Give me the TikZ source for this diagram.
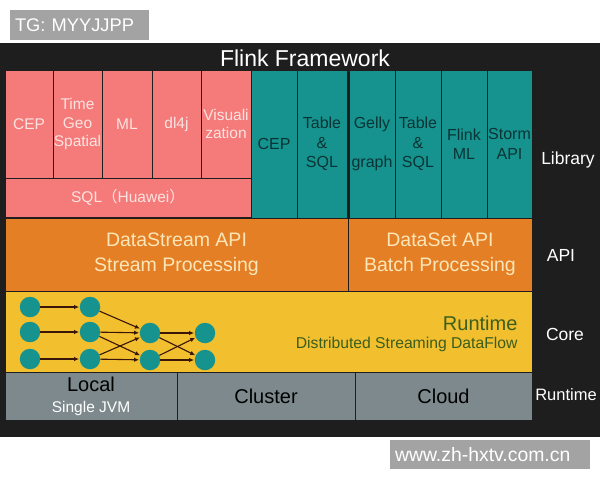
\documentclass[tikz,border=0pt]{standalone}
\usepackage{fontspec}
\setmainfont{Liberation Sans}
\newfontfamily\cjk{Noto Sans CJK SC}
\usetikzlibrary{arrows.meta}

\definecolor{bgdark}{HTML}{1E1E1E}
\definecolor{libpink}{HTML}{F47B7A}
\definecolor{pinktext}{HTML}{FCE3E0}
\definecolor{libteal}{HTML}{16938F}
\definecolor{tealtext}{HTML}{0A3434}
\definecolor{apiorange}{HTML}{E47F26}
\definecolor{apitext}{HTML}{FBE6B8}
\definecolor{coreyellow}{HTML}{F2BF2E}
\definecolor{coregreen}{HTML}{3B5E1E}
\definecolor{rungray}{HTML}{7D898C}
\definecolor{taggray}{HTML}{A3A3A3}
\definecolor{arrowbrown}{HTML}{3A1608}

\tikzset{
	cell/.style={draw=bgdark, line width=0.8pt, inner sep=0pt, align=center},
	pinkcell/.style={cell, fill=libpink, text=pinktext, font=\fontsize{15.5}{18.5}\selectfont, minimum height=108pt},
	tealcell/.style={cell, fill=libteal, text=tealtext, font=\fontsize{16}{19.5}\selectfont, minimum height=148pt},
	apicell/.style={cell, fill=apiorange, text=apitext, font=\fontsize{19.5}{25}\selectfont, minimum height=73pt},
	runcell/.style={cell, fill=rungray, font=\fontsize{20}{22}\selectfont, minimum height=48pt},
	side/.style={text=white, font=\fontsize{17.5}{20}\selectfont},
	dot/.style={circle, fill=libteal, minimum size=20.5pt, inner sep=0pt},
	flow/.style={-{Latex[length=5pt,width=4.5pt]}, arrowbrown, line width=1.1pt, shorten >=0.5pt},
	tagbox/.style={fill=taggray, text=white, inner sep=0pt, align=left}
}

\begin{document}
\begin{tikzpicture}[x=1pt, y=-1pt]
	\useasboundingbox (0,0) rectangle (600,480);
	\fill[white] (0,0) rectangle (600,480);
	\fill[bgdark] (0,43) rectangle (600,437);
	\node[text=white, font=\fontsize{23}{25}\selectfont] (title) at (305,58) {Flink Framework};
	
	% Library: pink part
	\node[pinkcell, minimum width=48pt] (pcep) at (29,124) {CEP};
	\node[pinkcell, minimum width=49pt] (ptime) at (77.5,124) {Time\\Geo\\Spatial};
	\node[pinkcell, minimum width=50pt] (pml) at (127,124) {ML};
	\node[pinkcell, minimum width=49pt] (pdl) at (176.5,124) {dl4j};
	\node[pinkcell, minimum width=50pt] (pvis) at (226,124) {Visuali\\zation};
	\node[pinkcell, minimum width=246pt, minimum height=39pt] (psql) at (128,197.5) {SQL{\cjk （}Huawei{\cjk ）}};
	
	% Library: teal part
	\node[tealcell, minimum width=46pt] (tcep) at (274,144) {CEP};
	\node[tealcell, minimum width=50pt] (ttable) at (322,144) {Table\\\&\\SQL};
	\node[tealcell, minimum width=46pt] (tgelly) at (372,144) {Gelly\\[19.5pt]graph};
	\node[tealcell, minimum width=46pt] (tsql) at (418,144) {Table\\\&\\SQL};
	\node[tealcell, minimum width=46pt] (tml) at (464,144) {Flink\\ML};
	\node[tealcell, minimum width=45pt] (tstorm) at (509.5,144) {Storm\\API};
	
	% API
	\node[apicell, minimum width=343pt] (stream) at (176.5,254.5) {DataStream API\\Stream Processing};
	\node[apicell, minimum width=184pt] (batch) at (440,254.5) {DataSet API\\Batch Processing};
	
	% Core
	\node[cell, fill=coreyellow, minimum width=527pt, minimum height=81pt] (core) at (268.5,331.5) {};
	\node[text=coregreen, anchor=east, font=\fontsize{20}{22}\selectfont] (rtitle) at (521,323) {Runtime};
	\node[text=coregreen, anchor=east, font=\fontsize{15.7}{17}\selectfont] (rsub) at (521,344) {Distributed Streaming DataFlow};
	
	% Dataflow graph
	\node[dot] (a1) at (30,307) {};
	\node[dot] (a2) at (30,332) {};
	\node[dot] (a3) at (30,359) {};
	\node[dot] (b1) at (90,307) {};
	\node[dot] (b2) at (90,332) {};
	\node[dot] (b3) at (90,359) {};
	\node[dot] (c1) at (150,333) {};
	\node[dot] (c2) at (150,360) {};
	\node[dot] (e1) at (205,333) {};
	\node[dot] (e2) at (205,360) {};
	\draw[flow] (a1) -- (b1);
	\draw[flow] (a2) -- (b2);
	\draw[flow] (a3) -- (b3);
	\draw[flow] (b1) -- (c1);
	\draw[flow] (b2) -- (c1);
	\draw[flow] (b2) -- (c2);
	\draw[flow] (b3) -- (c1);
	\draw[flow] (b3) -- (c2);
	\draw[flow] (c1) -- (e1);
	\draw[flow] (c1) -- (e2);
	\draw[flow] (c2) -- (e1);
	\draw[flow] (c2) -- (e2);
	
	% Runtime
	\node[runcell, minimum width=172pt] (local) at (91,396) {Local\\[-1pt]{\fontsize{15.5}{17}\selectfont\color{white}Single JVM}};
	\node[runcell, minimum width=178pt] (cluster) at (266,396) {Cluster};
	\node[runcell, minimum width=177pt] (cloud) at (443.5,396) {Cloud};
	
	% layer names on the right
	\node[side] (llib) at (568,160) {Library};
	\node[side] (lapi) at (561,255) {API};
	\node[side] (lcore) at (565,334) {Core};
	\node[side, font=\fontsize{16.5}{20}\selectfont] (lrun) at (566,395) {Runtime};
	
	% grey tags
	\node[tagbox, minimum width=139pt, minimum height=30pt, text width=129pt, font=\fontsize{18.3}{20}\selectfont] (tag) at (79.5,25) {TG: MYYJJPP};
	\node[tagbox, minimum width=200pt, minimum height=29pt, text width=190pt, font=\fontsize{19.4}{21}\selectfont] (site) at (490,454.5) {www.zh-hxtv.com.cn};
\end{tikzpicture}
\end{document}
